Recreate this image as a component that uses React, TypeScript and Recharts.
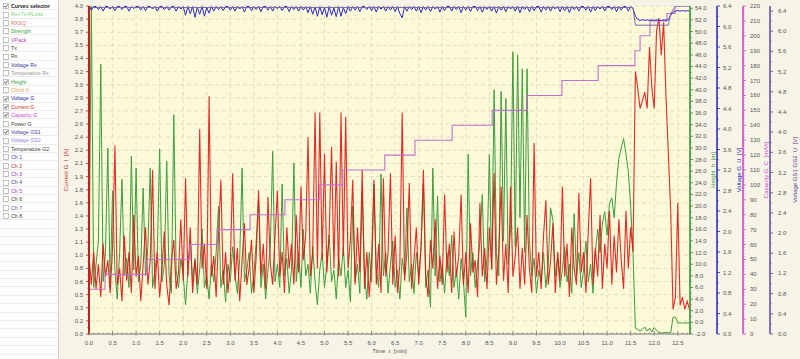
import React from "react";
import {
  ComposedChart,
  Line,
  XAxis,
  YAxis,
  CartesianGrid,
  ReferenceLine,
} from "recharts";

/* ── Logged data (one sample every 0.05 min) ─────────────── */

const SAMPLE_STEP = 0.05;
const T_MAX = 12.76;

const currentA = [
  0.95, 0.6, 1.0, 0.55, 0.85, 0.45, 1.1, 0.7, 0.9, 0.5, 1.05, 2.3, 0.6, 0.8, 0.4, 1.2, 0.65, 1.0, 0.5, 1.45,
  0.7, 0.95, 0.4, 0.85, 1.3, 0.6, 0.9, 2.0, 0.55, 1.0, 0.45, 0.8, 1.25, 0.6, 0.35, 0.9, 1.15, 0.55, 0.75, 1.4,
  0.65, 1.9, 0.7, 1.3, 0.5, 0.9, 0.6, 2.5, 0.8, 1.1, 0.55, 2.9, 0.7, 0.95, 0.45, 1.2, 1.88, 0.6, 1.0, 0.5,
  0.85, 1.96, 0.65, 1.05, 0.4, 0.9, 1.35, 0.6, 0.8, 1.15, 0.5, 0.95, 1.75, 0.7, 1.1, 0.55, 1.67, 0.85, 0.6, 1.2,
  1.75, 0.7, 1.0, 0.5, 1.3, 0.8, 1.1, 0.6, 1.45, 0.75, 1.8, 0.9, 1.2, 2.4, 0.7, 1.0, 2.7, 0.8, 2.7, 0.9,
  2.2, 0.75, 1.25, 2.28, 0.8, 2.1, 0.7, 2.7, 0.95, 2.65, 0.8, 1.15, 1.88, 0.6, 1.3, 0.75, 2.0, 0.55, 1.0, 0.45,
  0.9, 1.88, 0.6, 1.1, 0.5, 1.9, 0.7, 1.0, 1.96, 0.6, 1.2, 0.5, 0.85, 2.7, 0.65, 1.0, 1.84, 0.55, 0.9, 1.3,
  0.6, 1.05, 2.0, 0.7, 0.45, 1.15, 0.8, 1.4, 0.55, 0.95, 0.6, 1.7, 0.75, 1.1, 0.5, 1.25, 0.7, 0.95, 1.7, 0.6,
  1.0, 0.5, 1.35, 0.75, 0.9, 0.45, 1.6, 0.7, 1.05, 0.55, 1.3, 0.8, 1.96, 0.6, 1.0, 1.8, 0.65, 1.1, 0.5, 1.8,
  0.7, 0.95, 1.3, 0.55, 1.05, 0.6, 1.45, 0.8, 0.5, 2.33, 0.7, 1.0, 0.55, 1.2, 1.63, 0.6, 0.9, 1.35, 0.5, 1.0,
  0.65, 1.8, 0.7, 1.1, 0.45, 1.3, 0.8, 0.6, 1.72, 0.75, 1.0, 0.5, 1.25, 1.9, 0.6, 1.05, 0.7, 1.45, 0.55, 1.1,
  0.8, 1.5, 0.6, 1.2, 0.75, 1.4, 0.9, 0.55, 1.5, 0.8, 1.3, 1.0, 3.2, 3.0, 2.75, 2.85, 2.95, 2.75, 3.5, 3.0,
  2.75, 3.7, 3.85, 3.4, 3.8, 2.9, 2.2, 1.5, 0.3, 0.45, 1.6, 0.35, 0.45, 0.3, 0.4, 0.3,
];

const heightM = [
  8, 54.5, 6, 10, 14, 44.4, 7, 12, 30, 6, 22.6, 9, 4, 12, 24.6, 8, 11, 6, 28.6, 9,
  26.5, 7, 10, 23.1, 8, 13, 26.5, 6, 9, 12, 29.8, 7, 10, 27.7, 8, 5, 35.7, 9, 6, 11,
  8, 3, 9, 14, 7, 11, 5, 9, 16, 6, 8, 4, 10, 7, 12, 20, 6, 9, 3.5, 10,
  7, 13, 8, 5, 11, 26.5, 7, 9, 12, 5, 8, 14, 21, 6, 10, 4, 9, 13, 29.4, 7,
  10, 6, 23.8, 8, 11, 5, 9, 27.4, 7, 12, 6, 16, 8, 10, 5, 13, 7, 3, 9, 12,
  6, 10, 15, 7, 9, 4, 11, 8, 13, 6, 9, 3.5, 20, 7, 10, 5, 22.6, 8, 4, 12,
  7, 23.8, 9, 6, 25.5, 8, 12, 5, 10, 14, 6, 9, 4, 11, 8, 19.7, 7, 10, 5, 12,
  8, 13, 23.8, 6, 9, 2.6, 26.5, 8, 21.7, 7, 10, 5, 12, 8, 15, 6, 9, 4, 11, 7,
  0.9, 28.9, 8, 12, 6, 10, 14, 22, 7, 11, 28.9, 9, 40, 12, 8, 39.7, 14, 38.5, 10, 16,
  46.5, 13, 46, 18, 43.6, 12, 43.6, 14, 8, 11, 5, 9, 7, 12, 6, 10, 19.7, 17.5, 8, 11,
  6, 9, 13, 7, 10, 5, 18.7, 8, 12, 6, 9, 14, 7, 10, 5, 12, 16, 12, 17, 19,
  15, 20.4, 21.4, 18, 24, 28.2, 30, 31.6, 29, 26, 20, 12, -1, -1.2, -1.5, -1.2, -0.8, -1.5, -1.0, -1.6,
  -0.9, -1.4, -1.7, -1.8, -1.8, -1.7, -1.8, -1.8, 0.9, 0.9, -0.1, -0.1, -0.1, -0.1, -0.1, -0.1,
];

const voltageG = [
  6.39, 6.32, 6.39, 6.39, 6.33, 6.39, 6.3, 6.39, 6.39, 6.34, 6.39, 6.31, 6.39, 6.39, 6.33, 6.39, 6.39, 6.3, 6.39, 6.35,
  6.39, 6.39, 6.32, 6.39, 6.31, 6.39, 6.39, 6.34, 6.39, 6.3, 6.39, 6.39, 6.33, 6.39, 6.32, 6.39, 6.39, 6.3, 6.39, 6.34,
  6.39, 6.22, 6.39, 6.25, 6.39, 6.18, 6.38, 6.24, 6.39, 6.2, 6.37, 6.26, 6.39, 6.3, 6.39, 6.33, 6.39, 6.31, 6.39, 6.39,
  6.32, 6.39, 6.3, 6.39, 6.34, 6.39, 6.28, 6.39, 6.39, 6.31, 6.39, 6.33, 6.39, 6.29, 6.39, 6.39, 6.32, 6.39, 6.3, 6.39,
  6.35, 6.39, 6.31, 6.39, 6.39, 6.29, 6.39, 6.33, 6.39, 6.3, 6.39, 6.32, 6.39, 6.27, 6.39, 6.24, 6.38, 6.2, 6.39, 6.23,
  6.37, 6.18, 6.39, 6.22, 6.36, 6.19, 6.39, 6.2, 6.37, 6.25, 6.39, 6.3, 6.39, 6.32, 6.39, 6.29, 6.39, 6.39, 6.33, 6.39,
  6.31, 6.39, 6.28, 6.39, 6.34, 6.39, 6.3, 6.39, 6.32, 6.39, 6.29, 6.39, 6.25, 6.17, 6.39, 6.3, 6.39, 6.33, 6.39, 6.3,
  6.39, 6.27, 6.39, 6.32, 6.39, 6.29, 6.39, 6.34, 6.39, 6.28, 6.39, 6.31, 6.39, 6.39, 6.3, 6.39, 6.33, 6.39, 6.27, 6.39,
  6.32, 6.39, 6.29, 6.39, 6.39, 6.31, 6.39, 6.28, 6.39, 6.33, 6.39, 6.3, 6.39, 6.26, 6.39, 6.32, 6.39, 6.29, 6.39, 6.34,
  6.39, 6.3, 6.39, 6.27, 6.39, 6.33, 6.39, 6.29, 6.39, 6.31, 6.39, 6.39, 6.28, 6.39, 6.32, 6.39, 6.3, 6.39, 6.34, 6.39,
  6.29, 6.39, 6.31, 6.39, 6.27, 6.39, 6.33, 6.39, 6.3, 6.39, 6.39, 6.32, 6.39, 6.28, 6.39, 6.31, 6.39, 6.34, 6.39, 6.3,
  6.39, 6.39, 6.33, 6.39, 6.29, 6.39, 6.32, 6.39, 6.39, 6.3, 6.39, 6.35, 6.2, 6.14, 6.12, 6.13, 6.12, 6.13, 6.12, 6.13,
  6.12, 6.13, 6.12, 6.12, 6.13, 6.12, 6.13, 6.22, 6.28, 6.3, 6.31, 6.3, 6.31, 6.3, 6.31, 6.3,
];

// Voltage GS1 only changes a few times
const gs1Times = [0, 11.55, 11.6, 12.3, 12.35, 12.45, 12.76];
const gs1Volts = [6.47, 6.47, 6.12, 6.12, 6.35, 6.5, 6.5];

// Capacity counter steps (mAh)
const capTimes = [0, 0.34, 1.23, 2.14, 2.72, 3.42, 4.16, 4.9, 5.39, 6.28, 6.92, 7.71, 8.56, 9.3, 10.04, 10.81, 11.59, 11.7, 11.91, 12.27, 12.44, 12.76];
const capMah = [30, 40, 50, 60, 70, 80, 90, 100, 110, 120, 130, 140, 150, 160, 170, 180, 190, 200, 210, 215, 220, 220];

/* ── Axis ticks ──────────────────────────────────────────── */

const timeTicks = [0, 0.5, 1, 1.5, 2, 2.5, 3, 3.5, 4, 4.5, 5, 5.5, 6, 6.5, 7, 7.5, 8, 8.5, 9, 9.5, 10, 10.5, 11, 11.5, 12, 12.5];
const currentTicks = [0, 0.16, 0.32, 0.48, 0.64, 0.8, 0.96, 1.12, 1.28, 1.44, 1.6, 1.76, 1.92, 2.08, 2.24, 2.4, 2.56, 2.72, 2.88, 3.04, 3.2, 3.36, 3.52, 3.68, 3.84, 4.0];
const heightTicks = [-2, 0, 2, 4, 6, 8, 10, 12, 14, 16, 18, 20, 22, 24, 26, 28, 30, 32, 34, 36, 38, 40, 42, 44, 46, 48, 50, 52, 54];
const voltTicks = [0, 0.4, 0.8, 1.2, 1.6, 2.0, 2.4, 2.8, 3.2, 3.6, 4.0, 4.4, 4.8, 5.2, 5.6, 6.0, 6.4];
const capTicks = [0, 10, 20, 30, 40, 50, 60, 70, 80, 90, 100, 110, 120, 130, 140, 150, 160, 170, 180, 190, 200, 210, 220];

const curves = [
  { name: "Rx+Tx-PLoss", color: "#7fd37f", on: false },
  { name: "RXSQ", color: "#e07575", on: false },
  { name: "Strength", color: "#3c9f3c", on: false },
  { name: "VPack", color: "#c23fc2", on: false },
  { name: "Tx", color: "#444", on: false },
  { name: "Rx", color: "#444", on: false },
  { name: "Voltage Rx", color: "#34349c", on: false },
  { name: "Temperature Rx", color: "#9a9a9a", on: false },
  { name: "Height", color: "#3c9f3c", on: true },
  { name: "Climb 0", color: "#e8a262", on: false },
  { name: "Voltage G", color: "#2424b4", on: true },
  { name: "Current G", color: "#d02828", on: true },
  { name: "Capacity G", color: "#d048d0", on: true },
  { name: "Power G", color: "#444", on: false },
  { name: "Voltage GS1", color: "#54449a", on: true },
  { name: "Voltage GS2", color: "#a486e2", on: false },
  { name: "Temperature G2", color: "#444", on: false },
  { name: "Ch 1", color: "#4848c0", on: false },
  { name: "Ch 2", color: "#c04848", on: false },
  { name: "Ch 3", color: "#8a48c2", on: false },
  { name: "Ch 4", color: "#48488a", on: false },
  { name: "Ch 5", color: "#9448c2", on: false },
  { name: "Ch 6", color: "#444", on: false },
  { name: "Ch 7", color: "#6262a2", on: false },
  { name: "Ch 8", color: "#444", on: false },
];

/* ── Helpers ─────────────────────────────────────────────── */

const FONT = "'Liberation Sans', Arial, sans-serif";
const PAGE_BG = "#f5f4e6";
const PLOT_BG = "#fcfad8";
const GRID = "#dcd9b4";

const sampled = (vals: number[]) => vals.map((v, i) => ({ t: +(i * SAMPLE_STEP).toFixed(3), v }));
const paired = (ts: number[], vs: number[]) => ts.map((t, i) => ({ t, v: vs[i] }));

// major ticks plus evenly spaced minor ticks between them
function withMinor(majors: number[], parts: number, extra = 0) {
  const out: number[] = [];
  for (let i = 0; i < majors.length - 1; i++) {
    const a = majors[i];
    const b = majors[i + 1];
    for (let k = 0; k < parts; k++) out.push(+(a + ((b - a) * k) / parts).toFixed(4));
  }
  const last = majors[majors.length - 1];
  out.push(last);
  const step = (majors[1] - majors[0]) / parts;
  for (let k = 1; k <= extra; k++) out.push(+(last + step * k).toFixed(4));
  return out;
}

const isMajor = (majors: number[], v: number) => majors.some((m) => Math.abs(m - v) < 1e-6);

function makeTick(
  side: "left" | "right" | "bottom",
  majors: number[],
  fmt: (v: number) => string,
  lineColor: string,
  off: number
) {
  return (props: any) => {
    const { x, y, payload } = props;
    const v = payload.value;
    const major = isMajor(majors, v);
    const len = major ? 3 : 1.5;
    if (side === "bottom") {
      const ay = y - off;
      return (
        <g>
          <line x1={x} x2={x} y1={ay - len} y2={ay + (major ? 1.5 : 0)} stroke={lineColor} strokeWidth={0.8} />
          {major && (
            <text x={x} y={ay + 9} textAnchor="middle" dominantBaseline="central" fontSize={6} fill="#555" fontFamily={FONT}>
              {fmt(v)}
            </text>
          )}
        </g>
      );
    }
    const ax = side === "left" ? x + off : x - off;
    const dir = side === "left" ? -1 : 1;
    return (
      <g>
        <line x1={ax} x2={ax + dir * len} y1={y} y2={y} stroke={lineColor} strokeWidth={0.8} />
        {major && (
          <text x={x} y={y} textAnchor={side === "left" ? "end" : "start"} dominantBaseline="central" fontSize={6} fill="#555" fontFamily={FONT}>
            {fmt(v)}
          </text>
        )}
      </g>
    );
  };
}

function AxisTitle(props: any) {
  const { viewBox, text, color, side, inset } = props;
  if (!viewBox) return null;
  const cx = side === "left" ? viewBox.x + inset : viewBox.x + viewBox.width - inset;
  const cy = viewBox.y + viewBox.height / 2;
  return (
    <text x={cx} y={cy} transform={`rotate(-90 ${cx} ${cy})`} textAnchor="middle" dominantBaseline="central" fontSize={6} fill={color} fontFamily={FONT} style={{ whiteSpace: "pre" }}>
      {text}
    </text>
  );
}

function TimeTitle(props: any) {
  const { viewBox } = props;
  if (!viewBox) return null;
  return (
    <text x={viewBox.x + viewBox.width / 2} y={viewBox.y + 17} textAnchor="middle" dominantBaseline="central" fontSize={6} fill="#555" fontFamily={FONT} style={{ whiteSpace: "pre" }}>
      {"Time  t  [min]"}
    </text>
  );
}

/* ── Curves selector panel ───────────────────────────────── */

function CheckBox({ on }: { on: boolean }) {
  return (
    <svg width={6} height={6} style={{ position: "absolute", left: 3, top: 1.4 }}>
      <rect x={0.5} y={0.5} width={5} height={5} fill="#fff" stroke="#a8a8a8" strokeWidth={0.7} />
      {on && <polyline points="1.4,3 2.6,4.3 4.7,1.5" fill="none" stroke="#333" strokeWidth={0.9} />}
    </svg>
  );
}

function CurvePanel() {
  const ROW = 8.4;
  const rows = Array.from({ length: 43 }, (_, i) => i);
  return (
    <div style={{ position: "absolute", left: 0, top: 0, width: 58, height: 359, background: "#fdfdfb", borderRight: "1px solid #cfcfc4", overflow: "hidden", fontFamily: FONT }}>
      {rows.map((i) => (
        <div key={i} style={{ position: "absolute", left: 0, top: 1.8 + i * ROW, width: 58, height: ROW, borderBottom: "1px solid #ececec", boxSizing: "border-box" }} />
      ))}
      <div style={{ position: "absolute", left: 0, top: 1.8, height: ROW, width: 58 }}>
        <CheckBox on={true} />
        <span style={{ position: "absolute", left: 11, top: 1.2, fontSize: 5.2, fontWeight: "bold", color: "#222", whiteSpace: "nowrap", lineHeight: "6px" }}>
          Curves selector
        </span>
      </div>
      {curves.map((c, i) => (
        <div key={c.name} style={{ position: "absolute", left: 0, top: 1.8 + (i + 1) * ROW, height: ROW, width: 58 }}>
          <CheckBox on={c.on} />
          <span style={{ position: "absolute", left: 11, top: 1.2, fontSize: 5.3, color: c.color, whiteSpace: "nowrap", lineHeight: "6px" }}>
            {c.name}
          </span>
        </div>
      ))}
    </div>
  );
}

/* ── Chart ───────────────────────────────────────────────── */

// right-hand axes are laid out in id order, so ids carry their slot
const Y_CUR = "a_cur";
const Y_H = "r1_height";
const Y_V = "r2_volt";
const Y_CAP = "r3_cap";
const Y_GS = "r4_gs";

export default function App() {
  const currentData = sampled(currentA);
  const heightData = sampled(heightM);
  const voltData = sampled(voltageG);
  const gs1Data = paired(gs1Times, gs1Volts);
  const capData = paired(capTimes, capMah);

  const timeAll = withMinor(timeTicks, 5, 2);
  const currentAll = withMinor(currentTicks, 2);
  const heightAll = withMinor(heightTicks, 2);
  const voltAll = withMinor(voltTicks, 2);
  const capAll = withMinor(capTicks, 5);

  return (
    <div style={{ position: "fixed", left: 0, top: 0, width: 800, height: 359, background: PAGE_BG, overflow: "hidden" }}>
      <ComposedChart width={800} height={359} margin={{ top: 6, right: 0, bottom: 0, left: 58 }}>
        <CartesianGrid fill={PLOT_BG} horizontal={false} vertical={false} stroke="none" />
        <XAxis
          xAxisId={0}
          dataKey="t"
          type="number"
          domain={[0, T_MAX]}
          allowDataOverflow
          ticks={timeAll}
          interval={0}
          height={25}
          tickLine={false}
          tickSize={3}
          tickMargin={3}
          axisLine={{ stroke: "#777", strokeWidth: 1 }}
          tick={makeTick("bottom", timeTicks, (v) => v.toFixed(1), "#777", 6)}
          label={<TimeTitle />}
        />
        <YAxis
          yAxisId={Y_CUR}
          orientation="left"
          type="number"
          width={31}
          domain={[0, 4]}
          allowDataOverflow
          ticks={currentAll}
          interval={0}
          tickLine={false}
          tickSize={3}
          tickMargin={3}
          axisLine={{ stroke: "#c02020", strokeWidth: 2 }}
          tick={makeTick("left", currentTicks, (v) => v.toFixed(1), "#c02020", 6)}
          label={<AxisTitle text={"Current G  I  [A]"} color="#c83030" side="left" inset={8} />}
        />
        <YAxis
          yAxisId={Y_H}
          orientation="right"
          type="number"
          width={27}
          domain={[-2, 54.4]}
          allowDataOverflow
          ticks={heightAll}
          interval={0}
          tickLine={false}
          tickSize={3}
          tickMargin={2}
          axisLine={{ stroke: "#2e8b2e", strokeWidth: 1.5 }}
          tick={makeTick("right", heightTicks, (v) => v.toFixed(1), "#2e8b2e", 5)}
          label={<AxisTitle text={"Height  h  [m]"} color="#3c9f3c" side="right" inset={4} />}
        />
        <YAxis
          yAxisId={Y_V}
          orientation="right"
          type="number"
          width={26}
          domain={[0, 6.4]}
          allowDataOverflow
          ticks={voltAll}
          interval={0}
          tickLine={false}
          tickSize={3}
          tickMargin={3}
          axisLine={{ stroke: "#2424c0", strokeWidth: 1.5 }}
          tick={makeTick("right", voltTicks, (v) => v.toFixed(1), "#2424c0", 6)}
          label={<AxisTitle text={"Voltage G  U  [V]"} color="#2424b4" side="right" inset={4} />}
        />
        <YAxis
          yAxisId={Y_CAP}
          orientation="right"
          type="number"
          width={27}
          domain={[0, 220]}
          allowDataOverflow
          ticks={capAll}
          interval={0}
          tickLine={false}
          tickSize={3}
          tickMargin={4}
          axisLine={{ stroke: "#cc44cc", strokeWidth: 1.5 }}
          tick={makeTick("right", capTicks, (v) => String(v), "#cc44cc", 7)}
          label={<AxisTitle text={"Capacity G  C  [mAh]"} color="#d048d0" side="right" inset={4} />}
        />
        <YAxis
          yAxisId={Y_GS}
          orientation="right"
          type="number"
          width={30}
          domain={[0, 6.5]}
          allowDataOverflow
          ticks={voltAll}
          interval={0}
          tickLine={false}
          tickSize={3}
          tickMargin={5}
          axisLine={{ stroke: "#5a4aa0", strokeWidth: 1.5 }}
          tick={makeTick("right", voltTicks, (v) => v.toFixed(1), "#5a4aa0", 8)}
          label={<AxisTitle text={"Voltage GS1 GS2  U  [V]"} color="#54449a" side="right" inset={5} />}
        />

        {currentTicks.slice(1).map((v) => (
          <ReferenceLine key={`h${v}`} xAxisId={0} yAxisId={Y_CUR} y={v} stroke={GRID} strokeDasharray="4 3" strokeWidth={0.8} />
        ))}
        {timeTicks.slice(1).map((t) => (
          <ReferenceLine key={`v${t}`} xAxisId={0} yAxisId={Y_CUR} x={t} stroke={GRID} strokeDasharray="4 3" strokeWidth={0.8} />
        ))}

        <Line data={heightData} xAxisId={0} yAxisId={Y_H} dataKey="v" type="linear" stroke="#3d9b3d" strokeWidth={1} dot={false} isAnimationActive={false} />
        <Line data={currentData} xAxisId={0} yAxisId={Y_CUR} dataKey="v" type="linear" stroke="#e01414" strokeWidth={1.1} strokeOpacity={0.9} dot={false} isAnimationActive={false} />
        <Line data={capData} xAxisId={0} yAxisId={Y_CAP} dataKey="v" type="stepAfter" stroke="#c070d0" strokeWidth={1.1} dot={false} isAnimationActive={false} />
        <Line data={voltData} xAxisId={0} yAxisId={Y_V} dataKey="v" type="linear" stroke="#2a2ac8" strokeWidth={1} dot={false} isAnimationActive={false} />
        <Line data={gs1Data} xAxisId={0} yAxisId={Y_GS} dataKey="v" type="linear" stroke="#7a6ab0" strokeWidth={1} dot={false} isAnimationActive={false} />
      </ComposedChart>
      <CurvePanel />
    </div>
  );
}
